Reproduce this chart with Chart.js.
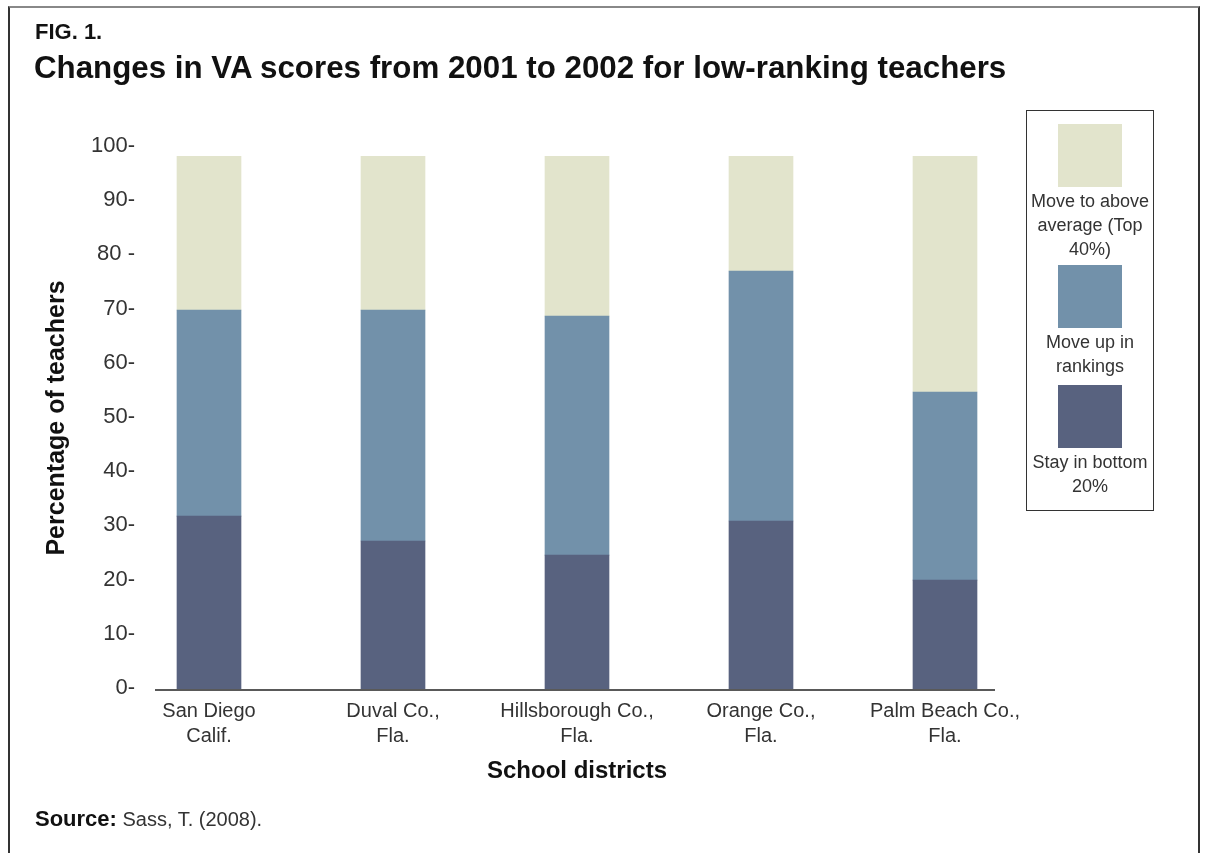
<!DOCTYPE html>
<html>
<head>
<meta charset="utf-8">
<script src="https://cdn.jsdelivr.net/npm/chart.js@4.4.1/dist/chart.umd.min.js"></script>
<style>
  html, body { margin: 0; padding: 0; background: #fff; }
  body { width: 1206px; height: 853px; position: relative; overflow: hidden; font-family: "Liberation Sans", Arial, sans-serif; color: #222; }
  #frame { position: absolute; left: 8px; top: 6px; width: 1192px; height: 860px; border-top: 2px solid #888; border-left: 2px solid #333; border-right: 2px solid #333; box-sizing: border-box; }
  #wrap { position: absolute; left: 0; top: 0; width: 1206px; height: 853px; }
  .txt { position: absolute; white-space: nowrap; line-height: 1; }
  #fig { left: 35px; top: 21px; font-size: 22px; font-weight: bold; color: #111; }
  #title { left: 34px; top: 52px; font-size: 31.3px; font-weight: bold; color: #111; }
  #source { left: 35px; top: 808px; font-size: 20px; color: #333; }
  #source b { color: #111; font-size: 22px; }
  #legend { position: absolute; left: 1026px; top: 110px; width: 128px; height: 401px; border: 1.5px solid #333; box-sizing: border-box; padding-top: 13px; display: flex; flex-direction: column; align-items: center; }
  .item { display: flex; flex-direction: column; align-items: center; }
  .item:nth-child(1) { margin-bottom: 4px; }
  .item:nth-child(2) { margin-bottom: 7px; }
  .sw { width: 64px; height: 63px; }
  .lt { width: 124px; text-align: center; font-size: 18px; line-height: 24px; color: #333; margin-top: 2px; }
</style>
</head>
<body>
<div id="wrap"><canvas id="c" width="1206" height="853"></canvas></div>
<div id="frame"></div>
<div class="txt" id="fig">FIG. 1.</div>
<div class="txt" id="title">Changes in VA scores from 2001 to 2002 for low-ranking teachers</div>
<div class="txt" id="source"><b>Source:</b> Sass, T. (2008).</div>
<div id="legend"></div>
<script>
// ---- data ----
const categories = [
  ["San Diego", "Calif."],
  ["Duval Co.,", "Fla."],
  ["Hillsborough Co.,", "Fla."],
  ["Orange Co.,", "Fla."],
  ["Palm Beach Co.,", "Fla."]
];
const stayBottom = [31.9, 27.3, 24.7, 31.0, 20.1];
const moveUp     = [38.0, 42.6, 44.1, 46.1, 34.7];
const moveAbove  = [28.4, 28.4, 29.5, 21.2, 43.5];
const seriesNames = ["Stay in bottom 20%", "Move up in rankings", "Move to above average (Top 40%)"];
const yTickLabels = ["0-", "10-", "20-", "30-", "40-", "50-", "60-", "70-", "80 -", "90-", "100-"];
const xTitle = "School districts";
const yTitle = "Percentage of teachers";

const colors = ["#58627f", "#7291aa", "#e2e4cc"];

// axis baseline under the bars
const baseline = {
  id: "baseline",
  afterDatasetsDraw(chart) {
    const { ctx, chartArea, scales } = chart;
    const x0 = scales.x.getPixelForValue(0) - 54;
    const x1 = scales.x.getPixelForValue(categories.length - 1) + 50;
    ctx.save();
    ctx.strokeStyle = "#222";
    ctx.lineWidth = 1.5;
    ctx.beginPath();
    ctx.moveTo(x0, chartArea.bottom + 1);
    ctx.lineTo(x1, chartArea.bottom + 1);
    ctx.stroke();
    ctx.restore();
  }
};

// y tick labels (with their trailing dash marks), placed by the y scale
const yLabels = {
  id: "yLabels",
  afterDraw(chart) {
    const { ctx, chartArea, scales } = chart;
    const y = scales.y;
    ctx.save();
    ctx.fillStyle = "#333";
    ctx.font = "22px 'Liberation Sans', Arial, sans-serif";
    ctx.textAlign = "right";
    ctx.textBaseline = "middle";
    y.ticks.forEach(t => {
      const lbl = yTickLabels[Math.round(t.value / 10)];
      if (lbl !== undefined) ctx.fillText(lbl, chartArea.left + 18, y.getPixelForValue(t.value) - 1);
    });
    ctx.restore();
  }
};

const chart = new Chart(document.getElementById("c"), {
  type: "bar",
  data: {
    labels: categories,
    datasets: [
      { label: seriesNames[0], data: stayBottom, backgroundColor: colors[0] },
      { label: seriesNames[1], data: moveUp, backgroundColor: colors[1] },
      { label: seriesNames[2], data: moveAbove, backgroundColor: colors[2] }
    ]
  },
  options: {
    responsive: false,
    animation: false,
    devicePixelRatio: 1,
    layout: { padding: { top: 147, left: 0, right: 169, bottom: 67.6 } },
    datasets: { bar: { barThickness: 64, borderWidth: 0 } },
    plugins: { legend: { display: false }, tooltip: { enabled: false }, title: { display: false } },
    scales: {
      x: {
        stacked: true,
        grid: { display: false, drawTicks: false },
        border: { display: false },
        ticks: {
          color: "#333",
          font: { family: "Liberation Sans", size: 20, lineHeight: 1.25 },
          padding: 9.5,
          maxRotation: 0,
          autoSkip: false
        },
        title: {
          display: true,
          text: xTitle,
          color: "#111",
          font: { family: "Liberation Sans", size: 24, weight: "bold", lineHeight: 1.2 },
          padding: { top: 0, bottom: 0 }
        },
        afterFit(s) { s.width = s.width; s.height = 96.4; }
      },
      y: {
        stacked: true,
        min: 0,
        max: 100,
        grid: { display: false, drawTicks: false },
        border: { display: false },
        ticks: { stepSize: 10, display: false },
        title: {
          display: true,
          text: yTitle,
          color: "#111",
          font: { family: "Liberation Sans", size: 25, weight: "bold", lineHeight: 1.2 },
          padding: { top: 42, bottom: 0 }
        },
        afterFit(s) { s.width = 117; }
      }
    }
  },
  plugins: [baseline, yLabels]
});

// HTML legend built from the datasets (top series first)
const legend = document.getElementById("legend");
chart.data.datasets.slice().reverse().forEach(ds => {
  const it = document.createElement("div");
  it.className = "item";
  const sw = document.createElement("div");
  sw.className = "sw";
  sw.style.background = ds.backgroundColor;
  const lt = document.createElement("div");
  lt.className = "lt";
  lt.textContent = ds.label;
  it.appendChild(sw);
  it.appendChild(lt);
  legend.appendChild(it);
});
</script>
</body>
</html>
